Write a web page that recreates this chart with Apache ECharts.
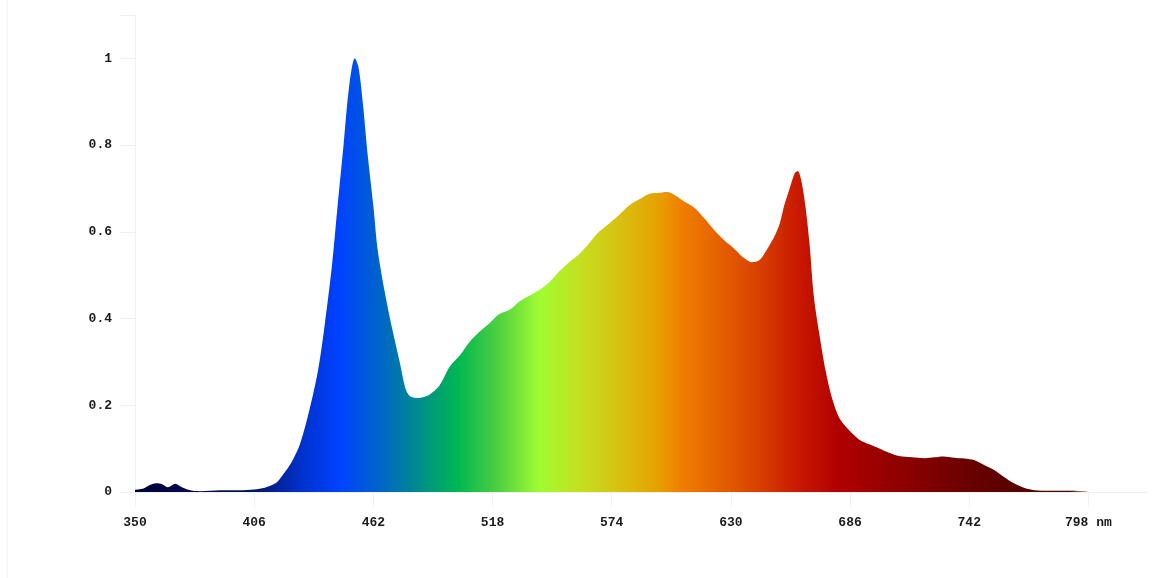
<!DOCTYPE html>
<html>
<head>
<meta charset="utf-8">
<script src="https://cdn.jsdelivr.net/npm/echarts@6/dist/echarts.min.js"></script>
<style>
html,body{margin:0;padding:0;background:#fff;}
#chart{width:1172px;height:578px;}
</style>
</head>
<body>
<div id="chart"></div>
<script>
// Wavelengths (nm) and relative intensity
const wavelengths = [350,354,357,360,362.7,365.5,369,372,376,380.5,390,399,406,411,416,419.5,423.7,427.5,432,436,439,442.5,445,448,450.5,453.3,455,457,459.5,462,464,467.4,470.7,474.4,477,479,482,484.8,488.5,493,498,502.6,507,512,516.7,521,526,530.8,538,545,549.6,554,559,563.6,568,573,577.7,582,587,591.8,596.5,600,603.6,608,613,617.7,622,627,631.8,636,639.8,643.5,647,650.5,653,655,657.6,660,661.4,663,665,667,669,671.7,674.5,677.3,681,686,690.5,695,700,704.6,709,715,721,725.7,730,735,739.7,744.5,749,753.8,758.5,763,768,772.6,779.7,789,798];
const intensity   = [0.005,0.008,0.016,0.02,0.018,0.011,0.019,0.011,0.004,0.002,0.004,0.004,0.006,0.01,0.02,0.04,0.07,0.11,0.19,0.28,0.38,0.52,0.65,0.80,0.93,1.0,0.98,0.90,0.77,0.66,0.56,0.46,0.38,0.30,0.24,0.222,0.217,0.218,0.225,0.245,0.29,0.315,0.345,0.37,0.39,0.41,0.42,0.44,0.46,0.485,0.51,0.53,0.55,0.575,0.60,0.62,0.64,0.66,0.675,0.688,0.69,0.692,0.685,0.67,0.655,0.63,0.605,0.58,0.56,0.54,0.53,0.535,0.56,0.59,0.62,0.66,0.70,0.735,0.74,0.72,0.66,0.57,0.45,0.36,0.28,0.22,0.17,0.14,0.12,0.11,0.10,0.09,0.083,0.08,0.078,0.08,0.082,0.079,0.077,0.073,0.062,0.05,0.034,0.02,0.009,0.004,0.003,0.003,0.002];
const xTicks = [350,406,462,518,574,630,686,742,798];
const yTicks = [0,0.2,0.4,0.6,0.8,1];

// Spectrum colour stops (wavelength, colour)
const stopNm    = [350,404,427,446,464,484,502,521,540,559,578,596,606,625,643,662,681,709,742,765,798];
const stopColor = ['#00003a','#06145e','#0030c8','#0042ff','#0062cc','#008e8a','#00b850','#50d040','#a0fc30','#c4e020','#d8c010','#e6a000','#f08000','#e46000','#d84000','#c81800','#b00000','#900000','#6a0000','#580000','#400000'];

const data = wavelengths.map((w,i)=>[w,intensity[i]]);
const wMin = wavelengths[0], wMax = wavelengths[wavelengths.length-1];
const colorStops = stopNm.map((n,i)=>({offset:(n-wMin)/(wMax-wMin), color:stopColor[i]}));

const font = '"Liberation Mono", "Courier New", monospace';
const chart = echarts.init(document.getElementById('chart'));
chart.setOption({
  animation:false,
  backgroundColor:'#fff',
  grid:{left:135, right:24, top:15, bottom:86},
  xAxis:{
    type:'value', min:350, max:826, interval:56,
    axisLine:{show:true, lineStyle:{color:'#f0f0f0'}},
    axisTick:{show:true, length:15, lineStyle:{color:'#f0f0f0'}},
    splitLine:{show:false},
    axisLabel:{
      margin:24, color:'#1a1a1a', fontFamily:font, fontSize:13, fontWeight:'bold',
      showMaxLabel:false,
      formatter:v=>{ if(!xTicks.includes(v)) return ''; return v===798 ? '798 nm' : String(v); }
    }
  },
  yAxis:{
    type:'value', min:0, max:1.1, interval:0.2,
    axisLine:{show:true, lineStyle:{color:'#f0f0f0'}},
    axisTick:{show:true, length:15, inside:false, lineStyle:{color:'#f0f0f0'}},
    splitLine:{show:false},
    axisLabel:{
      margin:23, color:'#1a1a1a', fontFamily:font, fontSize:13, fontWeight:'bold',
      formatter:v=>{ const m = yTicks.find(t=>Math.abs(t-v)<1e-9); return m===undefined ? '' : String(m); }
    }
  },
  graphic:[{type:'line', shape:{x1:7,y1:0,x2:7,y2:578}, style:{stroke:'#f2f2f2', lineWidth:1}, silent:true}],
  series:[{
    type:'line', data:data, smooth:0.3, symbol:'none',
    lineStyle:{width:0},
    areaStyle:{opacity:1, color:new echarts.graphic.LinearGradient(0,0,1,0,colorStops)}
  }]
});
</script>
</body>
</html>
